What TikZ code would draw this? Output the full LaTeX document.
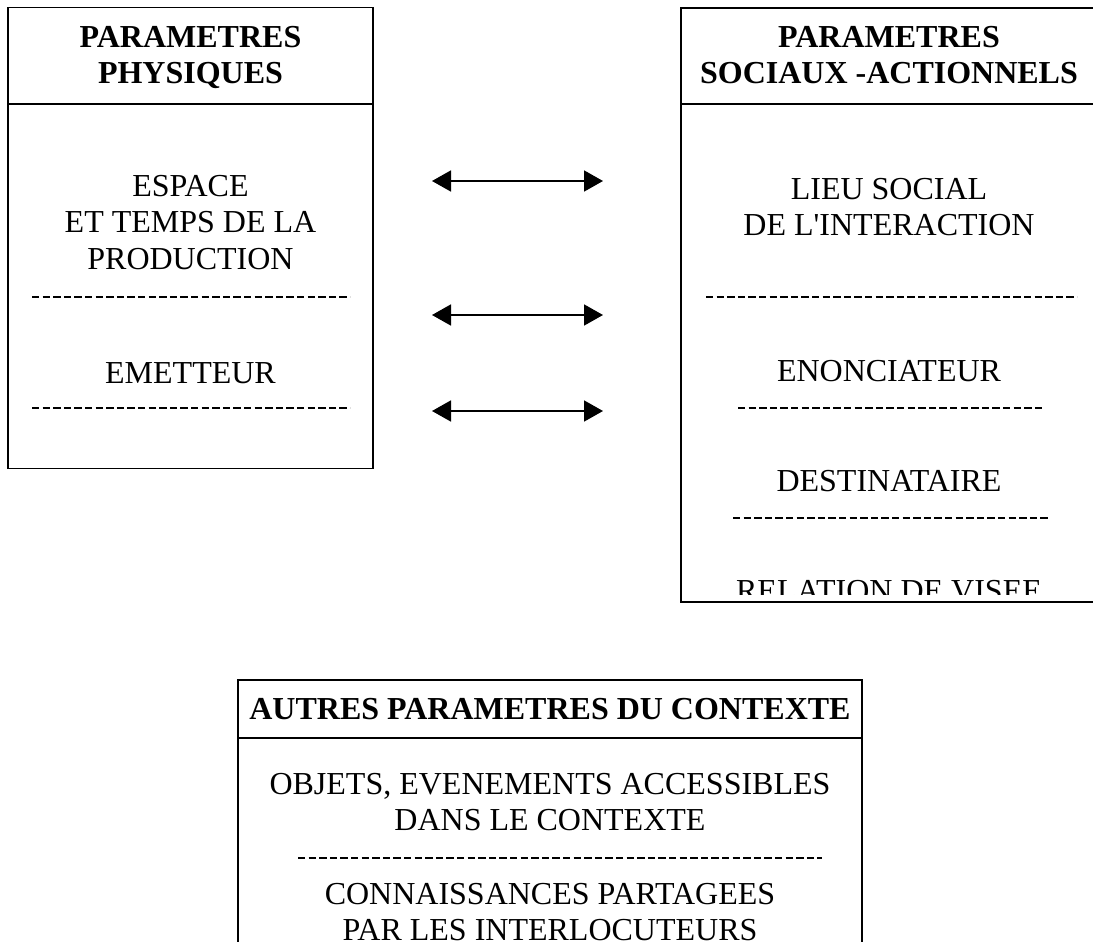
\documentclass[tikz,border=0pt]{standalone}
\usepackage{fontspec}
\setmainfont{Liberation Serif}
\usetikzlibrary{arrows.meta}

\tikzset{
    box/.style={draw, rectangle, line width=1.8pt, inner sep=0pt},
    label/.style={anchor=north, inner sep=0pt, align=center,
        font=\fontsize{32}{36.5}\selectfont},
    head/.style={label, font=\fontsize{32}{36.5}\selectfont\bfseries},
    sep/.style={line width=1.8pt},
    dots/.style={line width=1.8pt, dash pattern=on 7.4pt off 3.2pt},
    link/.style={line width=1.8pt, {Triangle[length=19pt,width=21pt]}-{Triangle[length=19pt,width=21pt]}}
}

\begin{document}
\begin{tikzpicture}[x=1pt, y=-1pt]
    \useasboundingbox (0,0) rectangle (1093,942);

    % physical parameters
    \node[box,
    minimum width = 365pt,
    minimum height = 461pt
    ](phys) at (190.5,238) {};
    \draw[sep] (phys.west |- 0,104) -- (phys.east |- 0,104);
    \node[head](physh) at (190.5,26) {PARAMETRES\\PHYSIQUES};
    \node[label](espace) at (190.5,175) {ESPACE\\ET TEMPS DE LA\\PRODUCTION};
    \draw[dots] (32,297) -- (350,297);
    \node[label](emet) at (190.5,362) {EMETTEUR};
    \draw[dots] (32,408) -- (350,408);

    % social parameters
    \node[box,
    minimum width = 416pt,
    minimum height = 594pt
    ](soc) at (889,305) {};
    \draw[sep] (soc.west |- 0,104) -- (soc.east |- 0,104);
    \node[head](soch) at (889,26) {PARAMETRES\\SOCIAUX -ACTIONNELS};
    \node[label](lieu) at (889,178) {LIEU SOCIAL\\DE L\textquotesingle INTERACTION};
    \draw[dots] (706,297) -- (1077,297);
    \node[label](enon) at (889,360) {ENONCIATEUR};
    \draw[dots] (738,408) -- (1043,408);
    \node[label](dest) at (889,470) {DESTINATAIRE};
    \draw[dots] (733,518) -- (1050,518);
    \begin{scope}
        \clip (681,104) rectangle (1097,594);
        \node[label](visee) at (889,580) {RELATION DE VISEE};
    \end{scope}

    % other parameters
    \node[box,
    minimum width = 624pt,
    minimum height = 300pt
    ](autres) at (550,830) {};
    \draw[sep] (238,738) -- (862,738);
    \node[head](autresh) at (550,698) {AUTRES PARAMETRES DU CONTEXTE};
    \node[label](objets) at (550,773) {OBJETS, EVENEMENTS ACCESSIBLES\\DANS LE CONTEXTE};
    \draw[dots] (298,858) -- (822,858);
    \node[label](conn) at (550,883) {CONNAISSANCES PARTAGEES\\PAR LES INTERLOCUTEURS};

    % arrows
    \coordinate (l1) at (432,181);
    \coordinate (r1) at (603,181);
    \coordinate (l2) at (432,315);
    \coordinate (r2) at (603,315);
    \coordinate (l3) at (432,411);
    \coordinate (r3) at (603,411);
    \draw[link] (l1) -- (r1);
    \draw[link] (l2) -- (r2);
    \draw[link] (l3) -- (r3);
\end{tikzpicture}
\end{document}
